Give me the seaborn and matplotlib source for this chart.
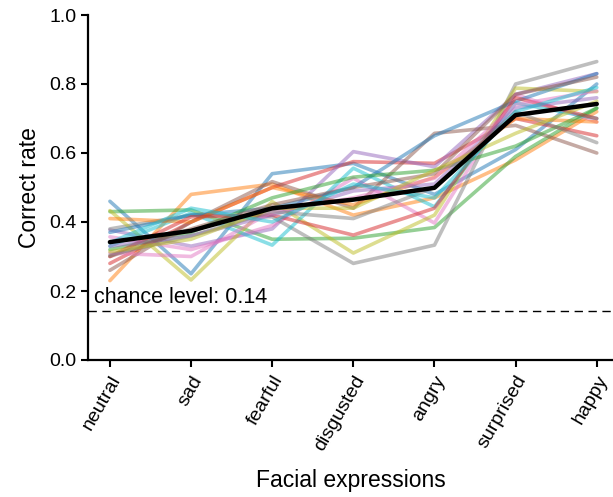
import numpy as np
import pandas as pd
import matplotlib
matplotlib.use("Agg")
import matplotlib.pyplot as plt
import seaborn as sns

expressions = ["neutral", "sad", "fearful", "disgusted", "angry", "surprised", "happy"]

# per-participant correct rates, one list per participant (order follows `expressions`)
s01 = [0.46, 0.25, 0.54, 0.57, 0.48, 0.61, 0.80]
s02 = [0.23, 0.48, 0.51, 0.42, 0.47, 0.58, 0.72]
s03 = [0.43, 0.435, 0.35, 0.353, 0.384, 0.59, 0.73]
s04 = [0.28, 0.40, 0.50, 0.575, 0.57, 0.70, 0.65]
s05 = [0.377, 0.33, 0.38, 0.604, 0.56, 0.77, 0.83]
s06 = [0.26, 0.40, 0.517, 0.44, 0.657, 0.68, 0.60]
s07 = [0.357, 0.32, 0.39, 0.527, 0.397, 0.77, 0.69]
s08 = [0.38, 0.42, 0.415, 0.28, 0.333, 0.80, 0.865]
s09 = [0.433, 0.232, 0.459, 0.31, 0.42, 0.788, 0.778]
s10 = [0.33, 0.426, 0.333, 0.556, 0.444, 0.745, 0.70]
s11 = [0.37, 0.42, 0.44, 0.50, 0.65, 0.75, 0.83]
s12 = [0.41, 0.40, 0.50, 0.45, 0.53, 0.70, 0.69]
s13 = [0.32, 0.37, 0.47, 0.53, 0.55, 0.62, 0.73]
s14 = [0.30, 0.415, 0.42, 0.362, 0.44, 0.76, 0.70]
s15 = [0.33, 0.36, 0.42, 0.49, 0.51, 0.73, 0.76]
s16 = [0.30, 0.38, 0.45, 0.50, 0.54, 0.77, 0.82]
s17 = [0.31, 0.30, 0.43, 0.47, 0.527, 0.74, 0.78]
s18 = [0.304, 0.36, 0.43, 0.41, 0.50, 0.72, 0.63]
s19 = [0.314, 0.35, 0.44, 0.44, 0.55, 0.657, 0.75]
s20 = [0.34, 0.44, 0.40, 0.51, 0.47, 0.72, 0.79]

participants = [s01, s02, s03, s04, s05, s06, s07, s08, s09, s10,
                s11, s12, s13, s14, s15, s16, s17, s18, s19, s20]
chance = 1 / 7

rows = []
for sid, vals in enumerate(participants):
    for pos, (expr, v) in enumerate(zip(expressions, vals)):
        rows.append({"subject": f"s{sid + 1:02d}", "pos": pos, "expression": expr, "rate": v})
df = pd.DataFrame(rows)

sns.set_theme(style="ticks")
plt.rcParams["font.family"] = ["Liberation Sans", "DejaVu Sans"]
plt.rcParams["text.color"] = "black"
plt.rcParams["axes.labelcolor"] = "black"

fig = plt.figure(figsize=(6.13, 4.97), dpi=100)
ax = fig.add_axes([88 / 613, 1 - 360 / 497, 1 - 88 / 613, 345 / 497])

palette = sns.color_palette("tab10", 10) * 2
sns.lineplot(data=df, x="pos", y="rate", hue="subject", palette=palette,
             alpha=0.5, linewidth=2.6, legend=False, ax=ax)
# group mean across participants
sns.lineplot(data=df, x="pos", y="rate", errorbar=None, color="black",
             linewidth=3.2, ax=ax)

ax.axhline(chance, color="black", linestyle=(0, (6, 4)), linewidth=1.0)
ax.text(-0.19, chance + 0.008, f"chance level: {chance:.2f}", fontsize=15.5,
        ha="left", va="bottom")

ax.set_xlim(-0.27, 6.2)
ax.set_ylim(0, 1.0)
ax.set_yticks(np.arange(0, 1.01, 0.2))
ax.set_yticklabels([f"{t:.1f}" for t in np.arange(0, 1.01, 0.2)])
ax.set_xticks(range(len(expressions)))
ax.set_xticklabels(expressions, rotation=60, ha="right", rotation_mode="anchor")

ax.set_xlabel("Facial expressions", fontsize=16.5, va="center")
ax.xaxis.set_label_coords(0.5, -0.35)
ax.set_ylabel("Correct rate", fontsize=16.5, labelpad=6)

for side in ["top", "right"]:
    ax.spines[side].set_visible(False)
for side in ["left", "bottom"]:
    ax.spines[side].set_linewidth(1.6)
    ax.spines[side].set_color("black")
ax.tick_params(axis="both", labelsize=14, width=1.5, length=5, color="black",
               labelcolor="black")
ax.tick_params(axis="x", pad=4)

fig.savefig("out.png", dpi=100)
